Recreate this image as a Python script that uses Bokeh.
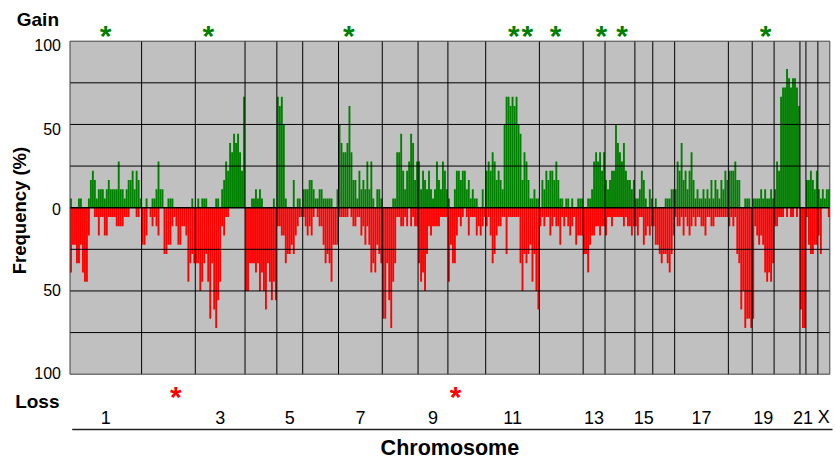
import numpy as np
from bokeh.plotting import figure
from bokeh.models import Range1d
from bokeh.core.properties import value
from bokeh.embed import file_html
from bokeh.resources import INLINE

# ---------------- data ----------------
N_SAMPLES = 18  # frequencies are counts out of this many samples

chroms = ["1", "2", "3", "4", "5", "6", "7", "8", "9", "10", "11", "12",
          "13", "14", "15", "16", "17", "18", "19", "20", "21", "22", "X"]

# number of samples with gain per clone, per chromosome
gain_counts = {
    "1": [1, 0, 0, 0, 1, 1, 0, 0, 0, 1, 3, 4, 3, 1, 2, 2, 2, 1, 2, 3, 2, 2, 2, 2, 5, 2, 2, 1, 2, 3, 3, 4, 2, 4, 3, 1],
    "2": [0, 0, 1, 0, 0, 1, 1, 2, 5, 2, 2, 0, 0, 1, 1, 1, 0, 0, 0, 0, 0, 0, 0, 0, 0, 1, 0],
    "3": [0, 1, 0, 1, 1, 1, 0, 0, 0, 0, 1, 1, 0, 2, 3, 5, 4, 7, 6, 8, 7, 8, 6, 4, 12],
    "4": [0, 0, 0, 1, 1, 2, 1, 2, 1, 0, 0, 0, 0, 0, 1, 0],
    "5": [12, 11, 12, 9, 1, 0, 0, 0, 3, 0, 1, 1, 0],
    "6": [2, 2, 2, 3, 3, 2, 1, 1, 2, 2, 1, 1, 1, 1, 1, 0, 0, 2],
    "7": [9, 7, 6, 6, 7, 11, 6, 3, 3, 1, 4, 2, 3, 2, 5, 2, 5, 1, 0, 2, 2, 1],
    "8": [0, 0, 0, 0, 0, 1, 1, 6, 6, 8, 4, 2, 4, 5, 8, 7, 3, 5],
    "9": [5, 2, 4, 3, 2, 4, 2, 1, 2, 5, 3, 2, 5, 4, 2],
    "10": [1, 0, 0, 2, 4, 4, 3, 4, 4, 2, 3, 1, 2, 1, 1, 0, 0, 2, 0],
    "11": [4, 5, 4, 6, 5, 3, 4, 3, 2, 9, 12, 12, 11, 12, 11, 12, 9, 8, 3, 6, 5, 3, 1, 1, 2, 1, 1],
    "12": [0, 3, 2, 4, 3, 4, 4, 3, 5, 3, 1, 1, 0, 1, 1, 0, 1, 0, 0, 1, 1, 1],
    "13": [0, 0, 1, 1, 2, 5, 6, 5, 6, 4, 6],
    "14": [3, 2, 3, 4, 4, 9, 7, 6, 5, 7, 4, 3, 3, 2, 3],
    "15": [1, 1, 2, 4, 3, 1, 0, 2, 1],
    "16": [0, 1, 0, 0, 0, 0, 1, 1, 1, 2, 2],
    "17": [2, 5, 4, 7, 3, 4, 2, 4, 6, 3, 1, 2, 1, 1, 2, 1, 2, 1, 3, 1, 3, 2, 1, 3, 2, 4, 3],
    "18": [4, 4, 4, 5, 3, 3, 0, 0, 1, 1, 1, 0],
    "19": [1, 1, 1, 1, 2, 1, 2, 1, 1, 2, 1],
    "20": [2, 5, 4, 12, 13, 13, 15, 14, 13, 14, 14, 13, 11],
    "21": [0, 0, 0],
    "22": [3, 3, 4, 3, 2, 4],
    "X": [2, 1, 2, 1, 2, 2],
}

# number of samples with loss per clone, per chromosome
loss_counts = {
    "1": [7, 4, 4, 6, 6, 4, 7, 8, 8, 3, 0, 0, 1, 1, 3, 1, 1, 3, 3, 1, 1, 1, 1, 2, 2, 2, 2, 1, 1, 1, 0, 0, 0, 1, 1, 0],
    "2": [4, 4, 3, 0, 1, 2, 1, 2, 3, 0, 0, 5, 5, 4, 4, 2, 1, 2, 4, 4, 2, 2, 3, 8, 6, 5, 6],
    "3": [6, 6, 9, 8, 6, 5, 8, 12, 6, 11, 13, 10, 8, 2, 3, 1, 1, 0, 0, 0, 0, 0, 0, 0, 0],
    "4": [9, 9, 6, 6, 6, 7, 6, 9, 7, 9, 11, 6, 8, 10, 8, 10],
    "5": [2, 2, 3, 3, 6, 5, 5, 4, 5, 3, 2, 1, 1],
    "6": [1, 2, 3, 2, 3, 1, 0, 1, 2, 2, 4, 6, 5, 6, 8, 4, 4, 4],
    "7": [1, 1, 1, 1, 1, 0, 1, 2, 2, 1, 1, 3, 2, 4, 2, 4, 7, 6, 7, 4, 5, 6],
    "8": [12, 12, 6, 10, 13, 8, 6, 1, 1, 2, 2, 1, 2, 0, 2, 1, 2, 2],
    "9": [6, 8, 7, 9, 5, 2, 3, 2, 2, 2, 2, 1, 1, 1, 1],
    "10": [8, 4, 6, 6, 3, 1, 2, 1, 0, 1, 3, 1, 1, 1, 3, 2, 3, 2, 1],
    "11": [2, 1, 3, 6, 5, 3, 2, 2, 1, 1, 5, 1, 1, 1, 1, 1, 1, 6, 9, 5, 6, 5, 4, 8, 5, 9, 11],
    "12": [2, 1, 2, 1, 1, 3, 2, 1, 2, 2, 4, 1, 2, 1, 2, 3, 2, 1, 4, 3, 3, 3],
    "13": [5, 5, 7, 4, 3, 3, 2, 2, 3, 2, 2],
    "14": [3, 1, 1, 2, 1, 1, 1, 1, 1, 2, 1, 2, 2, 3, 2],
    "15": [2, 3, 1, 1, 4, 3, 2, 3, 2],
    "16": [2, 4, 4, 5, 6, 5, 5, 6, 7, 5, 3],
    "17": [1, 2, 2, 1, 3, 1, 2, 3, 2, 1, 2, 1, 1, 2, 2, 3, 1, 1, 2, 2, 1, 1, 1, 1, 1, 1, 1],
    "18": [2, 1, 2, 1, 5, 6, 11, 9, 13, 12, 12, 13],
    "19": [12, 2, 3, 4, 3, 4, 7, 8, 7, 8, 6],
    "20": [2, 2, 1, 1, 1, 0, 1, 0, 1, 1, 0, 1, 0],
    "21": [11, 13, 13],
    "22": [1, 4, 5, 5, 4, 4],
    "X": [3, 5, 0, 0, 0, 1],
}

chrom_tick_labels = ["1", "3", "5", "7", "9", "11", "13", "15", "17", "19", "21", "X"]
y_ticks = [100, 50, 0, -50, -100]
y_tick_labels = ["100", "50", "0", "50", "100"]
grid_levels = [75, 50, 25, -25, -50, -75]

# significance stars: chromosome and clone index within that chromosome
gain_star_chrom = ["1", "3", "7", "11", "11", "12", "13", "14", "19"]
gain_star_clone = [17.35, 6.0, 4.67, 13.6, 20.4, 7.6, 8.6, 8.1, 6.2]
loss_star_chrom = ["2", "10"]
loss_star_clone = [16.7, 3.3]

# ---------------- derived positions ----------------
sizes = [len(gain_counts[c]) for c in chroms]
starts = np.concatenate([[0], np.cumsum(sizes)[:-1]])
n_total = int(np.sum(sizes))
chrom_start = dict(zip(chroms, starts))
chrom_center = {c: s + n / 2.0 for c, s, n in zip(chroms, starts, sizes)}

xs, gain_pct, loss_pct = [], [], []
for c in chroms:
    for i, (g, l) in enumerate(zip(gain_counts[c], loss_counts[c])):
        xs.append(chrom_start[c] + i + 0.5)
        gain_pct.append(g * 100.0 / N_SAMPLES)
        loss_pct.append(-l * 100.0 / N_SAMPLES)

# ---------------- layout (canvas pixels) ----------------
W, H = 835, 459
FL, FR, FT, FB = 69.5, 829.3, 40.7, 373.7   # grey plotting area
ppx = (FR - FL) / n_total
ppy = (FB - FT) / 200.0


def cx(px):
    return (px - FL) / ppx


def cy(py):
    return 100.0 - (py - FT) / ppy


p = figure(width=W, height=H,
           x_range=Range1d(cx(0), cx(W)), y_range=Range1d(cy(H), cy(0)),
           x_axis_type=None, y_axis_type=None,
           output_backend="svg", toolbar_location=None,
           min_border=0, outline_line_color=None,
           background_fill_color="white", border_fill_color="white")
p.grid.visible = False

FONT = value("Liberation Sans")

# grey area
p.quad(left=[0], right=[n_total], bottom=[-100], top=[100],
       fill_color="#C0C0C0", line_color=None)

# bars
p.vbar(x=xs, width=0.95, top=gain_pct, bottom=0,
       fill_color="#008000", line_color=None)
p.vbar(x=xs, width=0.95, top=0, bottom=loss_pct,
       fill_color="#FF0000", line_color=None)

# horizontal grid lines
p.segment(x0=[0] * len(grid_levels), x1=[n_total] * len(grid_levels),
          y0=grid_levels, y1=grid_levels, line_color="black", line_width=1)

# chromosome boundaries
bounds = list(starts[1:])
p.segment(x0=bounds, x1=bounds, y0=[-100] * len(bounds), y1=[100] * len(bounds),
          line_color="black", line_width=1)

# zero line and border
p.segment(x0=[0], x1=[n_total], y0=[0], y1=[0], line_color="black", line_width=1.5)
p.quad(left=[0], right=[n_total], bottom=[-100], top=[100],
       fill_color=None, line_color="#404040", line_width=1)

# y tick labels
p.text(x=[cx(60.5)] * len(y_ticks), y=y_ticks, text=y_tick_labels,
       text_font=FONT, text_font_size="16px", text_color="black",
       text_align="right", text_baseline="middle",
       y_offset=[4, 5, 1, -1, -1])

# Gain / Loss
p.text(x=[cx(58.5), cx(59)], y=[cy(18.7), cy(401.3)], text=["Gain", "Loss"],
       text_font=FONT, text_font_size="19px", text_font_style="bold",
       text_color="black", text_align="right", text_baseline="middle")

# axis label
p.text(x=[cx(19)], y=[cy(210)], text=["Frequency (%)"], angle=np.pi / 2,
       text_font=FONT, text_font_size="18.5px", text_font_style="bold",
       text_color="black", text_align="center", text_baseline="middle")

# chromosome labels
p.text(x=[chrom_center[c] for c in chrom_tick_labels],
       y=[cy(416.5)] * len(chrom_tick_labels), text=chrom_tick_labels,
       text_font=FONT, text_font_size="18px", text_color="black",
       text_align="center", text_baseline="middle")

# rule under chromosome labels
p.segment(x0=[cx(71.7)], x1=[cx(832)], y0=[cy(429)], y1=[cy(429)],
          line_color="#202020", line_width=1.5)

p.text(x=[n_total / 2.0], y=[cy(447)], text=["Chromosome"],
       text_font=FONT, text_font_size="21.5px", text_font_style="bold",
       text_color="black", text_align="center", text_baseline="middle")

# stars
gx = [chrom_start[c] + k + 0.5 for c, k in zip(gain_star_chrom, gain_star_clone)]
lx = [chrom_start[c] + k + 0.5 for c, k in zip(loss_star_chrom, loss_star_clone)]
p.text(x=gx, y=[cy(35.0)] * len(gx), text=["*"] * len(gx),
       text_font=FONT, text_font_size="30px", text_font_style="bold",
       text_color="#008000", text_align="center", text_baseline="alphabetic")
p.text(x=lx, y=[cy(395.5)] * len(lx), text=["*"] * len(lx),
       text_font=FONT, text_font_size="30px", text_font_style="bold",
       text_color="#FF0000", text_align="center", text_baseline="alphabetic")

open("out.html", "w").write(file_html(p, INLINE))
